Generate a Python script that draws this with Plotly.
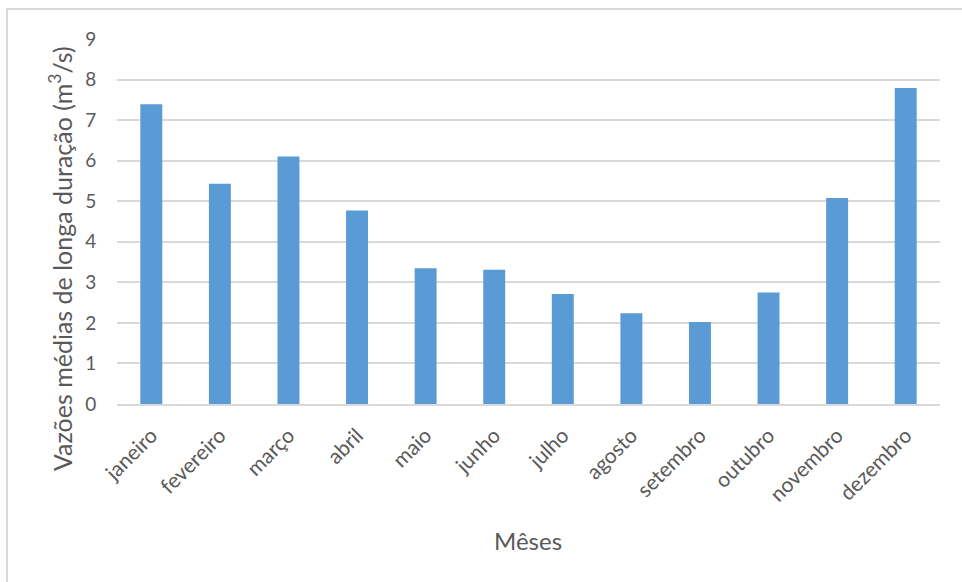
import plotly.graph_objects as go

# Vazões médias mensais de longa duração
meses = ["janeiro", "fevereiro", "março", "abril", "maio", "junho",
         "julho", "agosto", "setembro", "outubro", "novembro", "dezembro"]
vazoes = [7.39, 5.43, 6.10, 4.77, 3.35, 3.31, 2.71, 2.24, 2.02, 2.75, 5.08, 7.79]
y_ticks = list(range(0, 10))

FONT = "Lato, 'Noto Sans', sans-serif"
GREY_TEXT = "#595959"
GRID = "#d9d9d9"

# plot area in pixels (used to place the titles in paper units)
W, H = 962, 582
L, R, T, B = 117, 22, 39, 178
PW, PH = W - L - R, H - T - B


def px_to_paper(px, py):
    return (px - L) / PW, (H - B - py) / PH


fig = go.Figure(
    go.Bar(
        x=meses,
        y=vazoes,
        marker=dict(color="#5b9bd5", line=dict(width=0)),
        width=0.32,
    )
)

ytx, yty = px_to_paper(60, 259)
xtx, xty = px_to_paper(528, 540)

fig.update_layout(
    width=W,
    height=H,
    paper_bgcolor="white",
    plot_bgcolor="white",
    margin=dict(l=L, r=R, t=T, b=B),
    showlegend=False,
    font=dict(family=FONT, color=GREY_TEXT),
    shapes=[
        dict(type="rect", xref="paper", yref="paper",
             x0=-110 / PW, x1=1.2, y0=-1.0, y1=1 + 30 / PH,
             line=dict(color="#d9d9d9", width=2), layer="below"),
    ],
    annotations=[
        dict(text="Vazões médias de longa duração (m<sup>3</sup>/s)",
             xref="paper", yref="paper", x=ytx, y=yty,
             textangle=-90, showarrow=False,
             xanchor="center", yanchor="middle",
             font=dict(size=25, family=FONT, color=GREY_TEXT)),
        dict(text="Mêses",
             xref="paper", yref="paper", x=xtx, y=xty,
             showarrow=False, xanchor="center", yanchor="middle",
             font=dict(size=24, family=FONT, color=GREY_TEXT)),
    ],
)

fig.update_xaxes(
    tickangle=-45,
    tickfont=dict(size=21, family=FONT, color=GREY_TEXT),
    showgrid=False,
    showline=True,
    linecolor=GRID,
    linewidth=2,
    ticks="outside",
    ticklen=9,
    tickcolor="rgba(0,0,0,0)",
)

fig.update_yaxes(
    range=[0, 9],
    tickvals=y_ticks,
    tickfont=dict(size=19, family=FONT, color=GREY_TEXT),
    showgrid=True,
    gridcolor=GRID,
    gridwidth=2,
    zeroline=False,
    showline=False,
    ticks="outside",
    ticklen=16,
    tickcolor="rgba(0,0,0,0)",
)

fig.write_html("out.html")
